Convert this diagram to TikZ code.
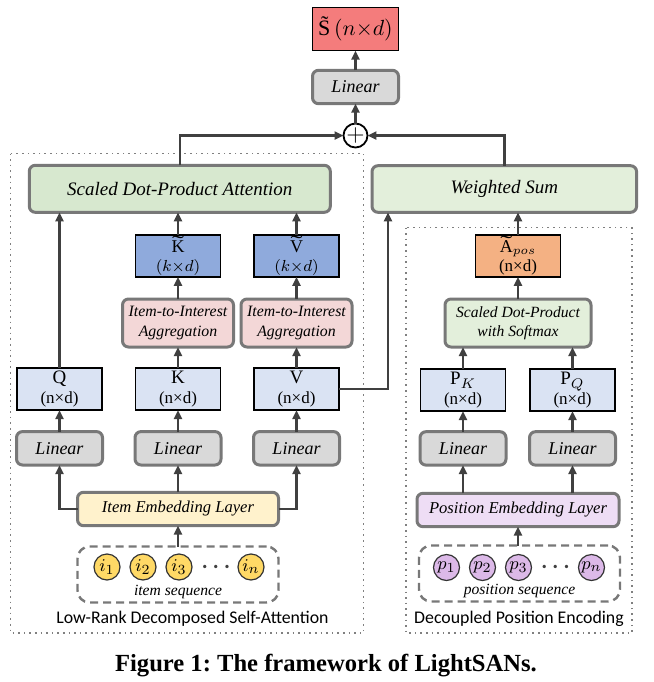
\documentclass[tikz,border=0pt]{standalone}
\usepackage{graphicx}
\usepackage{fontspec}
\setmainfont{Liberation Serif}
\newfontfamily\labelfont{Carlito}
\usetikzlibrary{arrows.meta,positioning}
\definecolor{sred}{RGB}{244,124,124}
\definecolor{lingray}{RGB}{217,217,217}
\definecolor{bordergray}{RGB}{120,120,120}
\definecolor{arrowgray}{RGB}{64,64,64}
\definecolor{sdpagreen}{RGB}{215,232,207}
\definecolor{wsgreen}{RGB}{227,239,219}
\definecolor{qkvblue}{RGB}{218,227,243}
\definecolor{tildeblue}{RGB}{143,170,220}
\definecolor{aposorange}{RGB}{244,177,131}
\definecolor{aggpink}{RGB}{243,215,215}
\definecolor{ielyellow}{RGB}{255,242,204}
\definecolor{pelpurple}{RGB}{238,221,245}
\definecolor{itemyellow}{RGB}{255,217,102}
\definecolor{pospurple}{RGB}{220,185,232}
\newcommand{\tildecap}[1]{\setbox0\hbox{#1}\rlap{\hbox to\wd0{\hss\raisebox{0.16em}{\scalebox{2}[1.1]{\char"02DC}}\hss}}#1}
\frenchspacing
\begin{document}
\begin{tikzpicture}[%
  x=0.5pt,
  y=-0.5pt,
  node distance=59.25pt,
  every node/.style={inner sep=0pt, outer sep=0pt},
  roundbox/.style={%
    rectangle,
    rounded corners=3pt,
    draw=bordergray,
    line width=1.5pt,
    text centered,
    minimum height=16.7pt,
    font=\fontsize{9}{10}\selectfont\itshape,
  },
  linbox/.style={roundbox, fill=lingray, minimum width=43pt},
  aggbox/.style={roundbox, fill=aggpink, minimum width=55.5pt,
    minimum height=24pt, align=center, font=\fontsize{7.9}{10}\selectfont\itshape},
  matbox/.style={%
    rectangle,
    draw=black,
    line width=0.7pt,
    minimum width=42.5pt,
    minimum height=21pt,
    align=center,
    font=\fontsize{8.5}{9.6}\selectfont,
  },
  seqbox/.style={rectangle, rounded corners=6pt, draw=bordergray, line width=1.2pt,
    dash pattern=on 4pt off 2.5pt, minimum width=100.5pt, minimum height=28pt},
  tokcirc/.style={circle, draw=black!80, line width=0.6pt, minimum size=13pt,
    font=\fontsize{9.5}{10}\selectfont},
  tokdots/.style={text=arrowgray, font=\fontsize{11}{11}\selectfont\boldmath},
  seqlabel/.style={font=\fontsize{7.8}{9}\selectfont\itshape},
  arr/.style={-{Triangle[length=4.5pt,width=4pt]}, draw=arrowgray, line width=1.25pt},
  groupbox/.style={draw=gray, dotted, line width=0.8pt},
  grouplabel/.style={font=\labelfont\fontsize{8.9}{10}\selectfont},
]
  \useasboundingbox (0,0) rectangle (654,682);

  \draw [groupbox] (10.5,153.5) rectangle (363.5,633);
  \draw [groupbox] (406,227.5) rectangle (632,633);
  \node [grouplabel] (lrlabel) at (192.5,619) {Low-Rank Decomposed Self-Attention};
  \node [grouplabel] (dplabel) at (519,619) {Decoupled Position Encoding};

  % output
  \node [rectangle, draw=black, line width=0.7pt, fill=sred, minimum width=42.75pt,
    minimum height=21.7pt, font=\fontsize{11}{12}\selectfont] (s) at (355.5,29)
    {\~S\,$(n{\times}d)$};
  \node [linbox] (lout) at (355.5,87) {Linear};
  \node [circle, draw=black, line width=0.9pt, fill=white, minimum size=10pt,
    font=\fontsize{13}{13}\selectfont] (plus) at (355.5,135.5) {$+$};
  \node [roundbox, fill=sdpagreen, minimum width=150.5pt, minimum height=23.5pt,
    font=\fontsize{9.5}{10}\selectfont\itshape] (sdpa) at (179.8,188.8)
    {Scaled Dot-Product Attention};
  \node [roundbox, fill=wsgreen, minimum width=132.3pt, minimum height=23.3pt,
    font=\fontsize{9.5}{10}\selectfont\itshape] (ws) at (504.3,189) {Weighted Sum};

  % low-rank decomposed self-attention
  \node [matbox, fill=qkvblue] (q) at (59.5,389) {{\fontsize{9.5}{9.6}\selectfont Q}\\(n×d)};
  \node [matbox, fill=qkvblue, right of=q] (k) {{\fontsize{9.5}{9.6}\selectfont K}\\(n×d)};
  \node [matbox, fill=qkvblue, right of=k] (v) {{\fontsize{9.5}{9.6}\selectfont V}\\(n×d)};
  \node [aggbox, above of=k, node distance=33pt] (aggk) {Item-to-Interest\\Aggregation};
  \node [aggbox, above of=v, node distance=33pt] (aggv) {Item-to-Interest\\Aggregation};
  \node [matbox, fill=tildeblue, above of=k, node distance=66.6pt] (kt)
    {{\fontsize{9}{9.6}\selectfont\tildecap{K}}\\$(k{\times}d)$};
  \node [matbox, fill=tildeblue, above of=v, node distance=66.6pt] (vt)
    {{\fontsize{9}{9.6}\selectfont\tildecap{V}}\\$(k{\times}d)$};
  \node [linbox, below of=q, node distance=29.65pt] (lq) {Linear};
  \node [linbox, right of=lq] (lk) {Linear};
  \node [linbox, right of=lk] (lv) {Linear};
  \node [roundbox, fill=ielyellow, minimum width=100.5pt, font=\fontsize{8.3}{10}\selectfont\itshape]
    (iel) at (178,509) {Item Embedding Layer};
  \node [seqbox] (iseq) at (178,574.5) {};
  \node [tokcirc, fill=itemyellow] (i1) at (107,567) {$i_1$};
  \node [tokcirc, fill=itemyellow, right of=i1, node distance=18pt] (i2) {$i_2$};
  \node [tokcirc, fill=itemyellow, right of=i2, node distance=18pt] (i3) {$i_3$};
  \node [tokdots, right of=i3, node distance=18.5pt] (idots) {$\cdots$};
  \node [tokcirc, fill=itemyellow, right of=i3, node distance=36pt] (in) {$i_n$};
  \node [seqlabel] (ilabel) at (178,591.5) {item sequence};

  % decoupled position encoding
  \node [matbox, fill=qkvblue] (pk) at (463,390) {{\fontsize{9.5}{9.6}\selectfont P$_K$}\\(n×d)};
  \node [matbox, fill=qkvblue, right of=pk, node distance=54.75pt] (pq)
    {{\fontsize{9.5}{9.6}\selectfont P$_Q$}\\(n×d)};
  \node [roundbox, fill=wsgreen, minimum width=73pt, minimum height=24pt, align=center,
    font=\fontsize{7.8}{9.5}\selectfont\itshape] (smax) at (518,323)
    {Scaled Dot-Product\\with Softmax};
  \node [matbox, fill=aposorange] (apos) at (518,255.8)
    {{\fontsize{9}{9.6}\selectfont\tildecap{A}$_{pos}$}\\(n×d)};
  \node [linbox, below of=pk, node distance=29.2pt] (lpk) {Linear};
  \node [linbox, below of=pq, node distance=29.2pt] (lpq) {Linear};
  \node [roundbox, fill=pelpurple, minimum width=101pt, font=\fontsize{8.3}{10}\selectfont\itshape]
    (pel) at (518,510) {Position Embedding Layer};
  \node [seqbox] (pseq) at (519.5,573.5) {};
  \node [tokcirc, fill=pospurple] (p1) at (446.5,567.5) {$p_1$};
  \node [tokcirc, fill=pospurple, right of=p1, node distance=18pt] (p2) {$p_2$};
  \node [tokcirc, fill=pospurple, right of=p2, node distance=18pt] (p3) {$p_3$};
  \node [tokdots, right of=p3, node distance=18.5pt] (pdots) {$\cdots$};
  \node [tokcirc, fill=pospurple, right of=p3, node distance=36.5pt] (pn) {$p_n$};
  \node [seqlabel] (plabel) at (519.5,591) {position sequence};

  \node [font=\bfseries\fontsize{12.3}{14}\selectfont] (caption) at (326,666)
    {Figure 1: The framework of LightSANs.};

  \draw [arr] (lout) -- (s);
  \draw [arr] (plus) -- (lout);
  \draw [arr] (sdpa.north) |- (plus.west);
  \draw [arr] (ws.north) |- (plus.east);
  \draw [arr] (q.north) -- (q.north |- sdpa.south);
  \draw [arr] (kt.north) -- (kt.north |- sdpa.south);
  \draw [arr] (vt.north) -- (vt.north |- sdpa.south);
  \draw [arr] (aggk) -- (kt);
  \draw [arr] (aggv) -- (vt);
  \draw [arr] (k) -- (aggk);
  \draw [arr] (v) -- (aggv);
  \draw [arr] (lq) -- (q);
  \draw [arr] (lk) -- (k);
  \draw [arr] (lv) -- (v);
  \draw [arr] (iel.west) -| (lq.south);
  \draw [arr] (iel) -- (lk);
  \draw [arr] (iel.east) -| (lv.south);
  \draw [arr] (iseq) -- (iel);
  \draw [arr] (v.east) -| ([xshift=8pt]ws.south west);
  \draw [arr] (apos.north) -- (apos.north |- ws.south);
  \draw [arr] (smax) -- (apos);
  \draw [arr] (pk.north) -- (pk.north |- smax.south);
  \draw [arr] (pq.north) -- (pq.north |- smax.south);
  \draw [arr] (lpk) -- (pk);
  \draw [arr] (lpq) -- (pq);
  \draw [arr] (lpk.south |- pel.north) -- (lpk.south);
  \draw [arr] (lpq.south |- pel.north) -- (lpq.south);
  \draw [arr] (pseq.north -| pel.south) -- (pel.south);
\end{tikzpicture}
\end{document}
